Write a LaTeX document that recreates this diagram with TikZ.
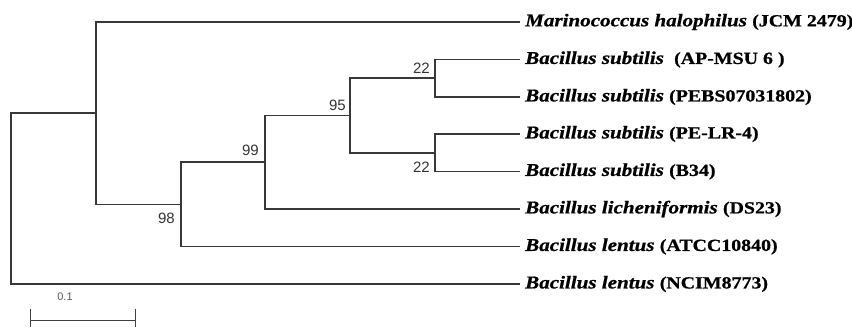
\documentclass[tikz,border=0pt]{standalone}
\usepackage{fontspec}
\setmainfont{Liberation Serif}
\newfontfamily\taxfont{Liberation Serif}[FakeStretch=1.17, FakeBold=0.8]
\newfontfamily\bootfont{Liberation Sans}
\usetikzlibrary{calc}
\tikzset{
  x=1pt, y=-1pt,
  branch/.style={draw=black!78, line width=1.05pt},
  leaf/.style={anchor=west, inner sep=0pt, font=\taxfont\fontsize{18}{18}\selectfont},
  boot/.style={inner sep=0pt, font=\bootfont\fontsize{15}{15}\selectfont, text=black!80},
  scalebar/.style={draw=black!75, line width=1pt},
}
\newcommand{\taxon}[2]{\textbf{\textit{#1}} {\fontsize{17}{17}\selectfont\textbf{#2}}}
\begin{document}
\begin{tikzpicture}
\useasboundingbox (0,0) rectangle (852,327);

% internal nodes
\coordinate (root) at (11,198);
\coordinate (n1)   at (96,113);
\coordinate (n98)  at (181,204.5);
\coordinate (n99)  at (265,162);
\coordinate (n95)  at (350,115.5);
\coordinate (nA)   at (435,78);
\coordinate (nB)   at (435,153);

% leaves
\node[leaf] (L1) at (525,22)    {\taxon{Marinococcus halophilus}{(JCM 2479)}};
\node[leaf] (L2) at (525,59.5)  {\taxon{Bacillus subtilis}{\ (AP-MSU 6 )}};
\node[leaf] (L3) at (525,97)    {\taxon{Bacillus subtilis}{(PEBS07031802)}};
\node[leaf] (L4) at (525,134)   {\taxon{Bacillus subtilis}{(PE-LR-4)}};
\node[leaf] (L5) at (525,171.5) {\taxon{Bacillus subtilis}{(B34)}};
\node[leaf] (L6) at (525,209)   {\taxon{Bacillus licheniformis}{(DS23)}};
\node[leaf] (L7) at (525,246.5) {\taxon{Bacillus lentus}{(ATCC10840)}};
\node[leaf] (L8) at (525,284)   {\taxon{Bacillus lentus}{(NCIM8773)}};

% leaf tips
\foreach \i in {1,...,8} {\coordinate (t\i) at ($(L\i.west)+(-5,0)$);}

% branches
\draw[branch] (root) |- (n1);
\draw[branch] (root) |- (t8);
\draw[branch] (n1) |- (t1);
\draw[branch] (n1) |- (n98);
\draw[branch] (n98) |- (n99);
\draw[branch] (n98) |- (t7);
\draw[branch] (n99) |- (n95);
\draw[branch] (n99) |- (t6);
\draw[branch] (n95) |- (nA);
\draw[branch] (n95) |- (nB);
\draw[branch] (nA) |- (t2);
\draw[branch] (nA) |- (t3);
\draw[branch] (nB) |- (t4);
\draw[branch] (nB) |- (t5);

% bootstrap values
\node[boot, anchor=base east] (bA)  at ($(nA)+(-5,-5)$)    {22};
\node[boot, anchor=base east] (bB)  at ($(nB)+(-5,19)$)    {22};
\node[boot, anchor=base east] (b95) at ($(n95)+(-4,-5.5)$) {95};
\node[boot, anchor=base east] (b99) at ($(n99)+(-6,-6.5)$) {99};
\node[boot, anchor=base east] (b98) at ($(n98)+(-6,18.5)$) {98};

% scale bar
\coordinate (s1) at (30,320);
\coordinate (s2) at (135,320);
\draw[scalebar] (s1) -- (s2);
\draw[scalebar] ($(s1)+(0,-11)$) -- ($(s1)+(0,7)$);
\draw[scalebar] ($(s2)+(0,-11)$) -- ($(s2)+(0,7)$);
\node[boot, font=\bootfont\fontsize{11}{11}\selectfont, text=black!65] (sbl) at (65,297) {0.1};
\end{tikzpicture}
\end{document}
